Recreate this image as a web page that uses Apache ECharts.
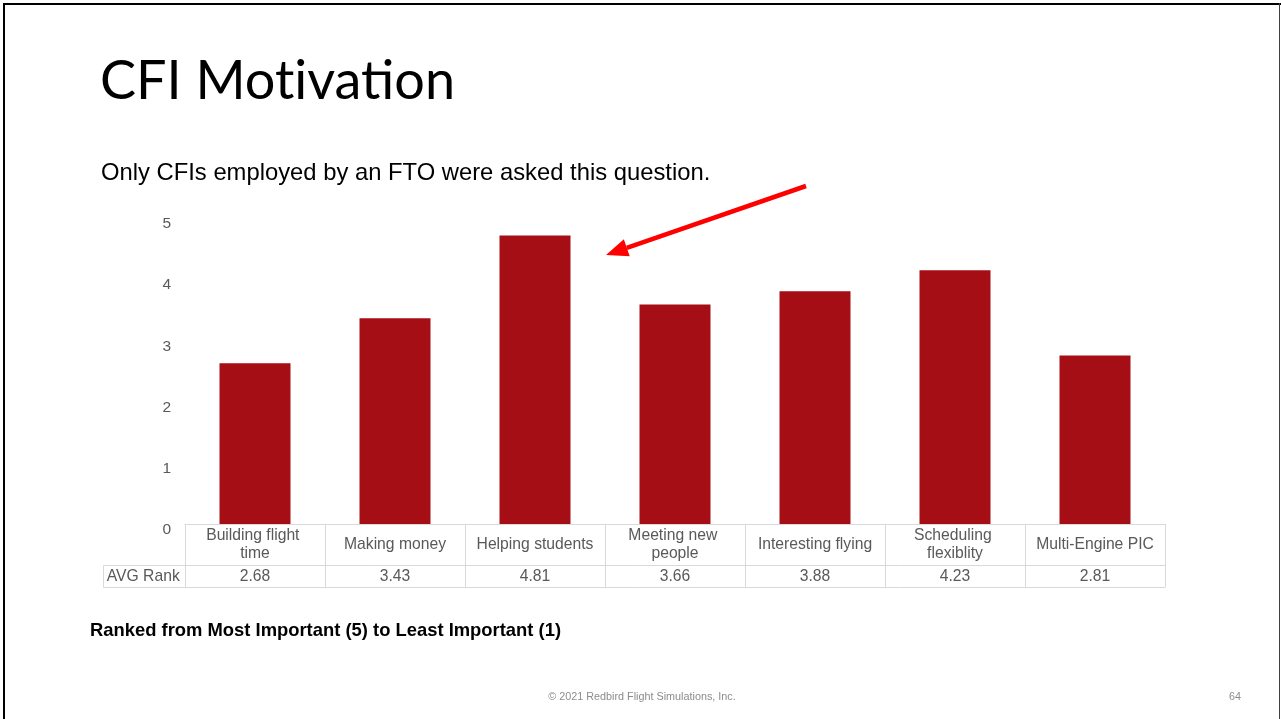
<!DOCTYPE html>
<html>
<head>
<meta charset="utf-8">
<script src="https://cdn.jsdelivr.net/npm/echarts@6/dist/echarts.min.js"></script>
<style>
  html, body { margin: 0; padding: 0; background: #fff; }
  #chart { width: 1281px; height: 719px; }
</style>
</head>
<body>
<div id="chart"></div>
<script>
// Survey: average rank of each motivation (5 = most important)
const categories = [
  'Building flight time',
  'Making money',
  'Helping students',
  'Meeting new people',
  'Interesting flying',
  'Scheduling flexiblity',
  'Multi-Engine PIC'
];
const avgRank = [2.68, 3.43, 4.81, 3.66, 3.88, 4.23, 2.81];
const yTicks = [0, 1, 2, 3, 4, 5];
const rowLabel = 'AVG Rank';

const FONT = '"Liberation Sans", Arial, sans-serif';
const GRAY = '#595959';
const LINE = '#d9d9d9';
const BAR = '#a50e15';

const chart = echarts.init(document.getElementById('chart'));

const GRID = { left: 185, right: 116, top: 224, bottom: 195 };
const yMax = yTicks[yTicks.length - 1];

// tick labels sit slightly lower toward the bottom of the axis
const yRich = {};
yTicks.forEach(v => {
  yRich['t' + v] = {
    color: GRAY, fontFamily: FONT, fontSize: 15.5,
    padding: [Math.round(2.3 * (yMax - v)), 0, 0, 0]
  };
});

chart.setOption({
  animation: false,
  backgroundColor: '#ffffff',
  grid: GRID,
  xAxis: [{
    type: 'category',
    data: categories,
    axisLine: { show: true, lineStyle: { color: LINE, width: 1 } },
    axisTick: { show: false },
    axisLabel: {
      color: GRAY, fontFamily: FONT, fontSize: 15.7, lineHeight: 18,
      width: 121, overflow: 'break', margin: 21, interval: 0,
      verticalAlign: 'middle'
    }
  }, {
    type: 'category',
    data: categories,
    position: 'bottom',
    axisLine: { show: false },
    axisTick: { show: false },
    axisLabel: {
      color: GRAY, fontFamily: FONT, fontSize: 15.7, margin: 52.5, interval: 0,
      verticalAlign: 'middle',
      formatter: (v, i) => avgRank[i].toFixed(2)
    }
  }],
  yAxis: {
    type: 'value',
    min: yTicks[0],
    max: yMax,
    interval: 1,
    splitLine: { show: false },
    axisLine: { show: false },
    axisTick: { show: false },
    axisLabel: {
      margin: 14,
      formatter: v => '{t' + v + '|' + v + '}',
      rich: yRich
    }
  },
  series: [{
    type: 'bar',
    data: avgRank,
    barWidth: 71,
    itemStyle: { color: BAR }
  }]
});

// Data table grid under the plot plus slide text and annotation
function drawOverlay() {
  const y0 = chart.convertToPixel({ yAxisIndex: 0 }, 0);
  const c0 = chart.convertToPixel({ xAxisIndex: 0 }, categories[0]);
  const c1 = chart.convertToPixel({ xAxisIndex: 0 }, categories[1]);
  const band = c1 - c0;
  const xL = c0 - band / 2;
  const xR = xL + band * categories.length;
  const yMid = y0 + 41.5;
  const yBot = y0 + 63.5;
  const labelL = 103.5;

  const ln = (x1, y1, x2, y2) => ({
    type: 'line', silent: true,
    shape: { x1, y1, x2, y2 },
    style: { stroke: LINE, lineWidth: 1 }
  });

  const els = [];
  for (let i = 0; i <= categories.length; i++) {
    const x = Math.round(xL + band * i) + 0.5;
    els.push(ln(x, y0, x, yBot));
  }
  els.push(ln(labelL, yMid, xR, yMid));
  els.push(ln(labelL, yBot, xR, yBot));
  els.push(ln(labelL, yMid, labelL, yBot));
  els.push({
    type: 'text', silent: true,
    style: {
      text: rowLabel, x: (labelL + xL) / 2 - 1, y: (yMid + yBot) / 2 + 0.5,
      align: 'center', verticalAlign: 'middle',
      fill: GRAY, font: '15.7px ' + FONT
    }
  });

  // slide frame
  els.push({ type: 'line', shape: { x1: 4, y1: 4, x2: 1281, y2: 4 }, style: { stroke: '#000', lineWidth: 2 } });
  els.push({ type: 'line', shape: { x1: 4, y1: 3, x2: 4, y2: 719 }, style: { stroke: '#000', lineWidth: 2 } });
  els.push({ type: 'line', shape: { x1: 1279.5, y1: 3, x2: 1279.5, y2: 719 }, style: { stroke: '#404040', lineWidth: 1 } });

  // heading and notes
  els.push({
    type: 'text', style: {
      text: 'CFI Mot\u200civation', x: 100, y: 82, verticalAlign: 'middle',
      fill: '#000', font: '54px "Lato", "Gill Sans", sans-serif'
    }
  });
  els.push({
    type: 'text', style: {
      text: 'Only CFIs employed by an FTO were asked this question.', x: 101, y: 173,
      verticalAlign: 'middle', fill: '#000', font: '23.8px ' + FONT
    }
  });
  els.push({
    type: 'text', style: {
      text: 'Ranked from Most Important (5) to Least Important (1)', x: 90, y: 631,
      verticalAlign: 'middle', fill: '#000', font: 'bold 18.4px ' + FONT
    }
  });
  els.push({
    type: 'text', style: {
      text: '\u00a9 2021 Redbird Flight Simulations, Inc.', x: 642, y: 697,
      align: 'center', verticalAlign: 'middle', fill: '#8c8c8c', font: '10.8px ' + FONT
    }
  });
  els.push({
    type: 'text', style: {
      text: '64', x: 1235, y: 697,
      align: 'center', verticalAlign: 'middle', fill: '#8c8c8c', font: '10.8px ' + FONT
    }
  });

  // arrow pointing at the top bar
  const tipX = 606, tipY = 255, tailX = 806, tailY = 186;
  const ang = Math.atan2(tipY - tailY, tipX - tailX);
  const hl = 22, hw = 9;
  const bx = tipX - hl * Math.cos(ang), by = tipY - hl * Math.sin(ang);
  const px = -Math.sin(ang), py = Math.cos(ang);
  els.push({
    type: 'line', shape: { x1: tailX, y1: tailY, x2: bx, y2: by },
    style: { stroke: '#ff0000', lineWidth: 4.5 }
  });
  els.push({
    type: 'polygon',
    shape: { points: [[tipX, tipY], [bx + px * hw, by + py * hw], [bx - px * hw, by - py * hw]] },
    style: { fill: '#ff0000' }
  });

  chart.setOption({ graphic: { elements: els } });
}
drawOverlay();
</script>
</body>
</html>
